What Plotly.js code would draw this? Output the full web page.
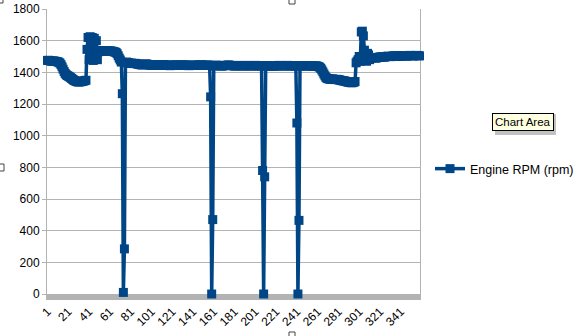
<!DOCTYPE html>
<html>
<head>
<meta charset="utf-8">
<script src="https://cdn.plot.ly/plotly-3.0.1.min.js"></script>
<style>
  html, body { margin: 0; padding: 0; background: #ffffff; }
  #chart { width: 580px; height: 336px; }
</style>
</head>
<body>
<div id="chart"></div>
<script>
// Engine RPM (rpm), one value per sample
const rpm = [
  1475,1476,1474,1472,1470,1471,1472,1470,1469,1468,
  1466,1463,1458,1448,1435,1420,1405,1393,1385,1380,
  1376,1372,1368,1362,1357,1352,1348,1345,1342,1340,
  1339,1340,1341,1342,1344,1346,1348,1350,1545,1620,
  1480,1625,1490,1620,1475,1615,1485,1600,1480,1530,
  1535,1538,1536,1535,1537,1536,1535,1534,1536,1535,
  1534,1535,1533,1532,1530,1528,1525,1518,1505,1490,
  1478,1465,1265,10,285,1460,
  1465,1462,1460,1458,
  1457,1458,1456,1455,1457,1456,1454,1452,1450,1449,
  1448,1447,1448,1450,1452,1453,1451,1449,1447,1446,
  1445,1444,1445,1446,1448,1447,1445,1444,1443,1444,
  1446,1447,1448,1447,1446,1445,1444,1443,1442,1443,
  1444,1445,1446,1447,1446,1445,1444,1443,1444,1445,
  1446,1447,1446,1445,1444,1443,1442,1443,1444,1445,
  1446,1445,1444,1443,1444,1445,1446,1447,1446,1445,
  1444,1443,1444,1445,1446,1445,1444,
  1245,0,470,1440,
  1442,1444,1445,1444,1443,1442,1441,1440,1441,
  1442,1443,1444,1445,1446,1445,1444,1443,1442,1441,
  1440,1441,1442,1443,1444,1443,1442,1441,1440,1441,
  1442,1443,1444,1443,1442,1441,1440,1441,1442,1443,
  1444,1443,1442,1441,1440,1441,1440,
  780,0,740,1438,
  1440,1441,1442,1443,1442,1441,1440,1439,1440,
  1441,1442,1443,1444,1443,1442,1441,1440,1441,1442,
  1443,1444,1443,1442,1441,1440,1441,1442,1441,1440,
  1080,0,465,1440,
  1441,1442,1443,1442,1441,1440,
  1441,1442,1443,1442,1441,1440,1439,1440,1441,1440,
  1438,1436,1432,1425,1415,1403,1390,1378,1368,1362,
  1360,1358,1357,1356,1358,1357,1355,1354,1356,1355,
  1353,1352,1350,1348,1347,1346,1345,1343,1341,1339,
  1337,1336,1335,1334,1336,1338,1342,
  1460,1470,1480,1500,1470,1655,1660,1630,1540,1500,1470,1520,1510,1480,1490,
  1492,1494,1493,1491,1490,1492,1494,1495,
  1496,1497,1498,1497,1496,1498,1500,1501,1502,1500,
  1499,1500,1502,1503,1504,1503,1502,1501,1502,1503,
  1504,1505,1506,1505,1504,1503,1504,1505,1506,1507,
  1506,1505,1504,1505,1506,1507,1506,1505,1504
];
// Category labels: sample numbers 1..N
const samples = rpm.map((_, i) => String(i + 1));
const xTickLabels = ['1','21','41','61','81','101','121','141','161','181','201','221','241','261','281','301','321','341'];
const yTickValues = [0,200,400,600,800,1000,1200,1400,1600,1800];
const seriesName = 'Engine RPM (rpm)';
const tooltipText = 'Chart Area';

const blue = '#004586';
const grid = '#b3b3b3';
const font = 'Liberation Sans, Arial, sans-serif';

const trace = {
  type: 'scatter',
  mode: 'lines+markers',
  x: samples,
  y: rpm,
  name: seriesName,
  line: { color: blue, width: 3.5 },
  marker: { color: blue, symbol: 'square', size: 9 },
  showlegend: true,
  cliponaxis: false
};

// helpers for pixel -> paper (plot area: x 47..420, y 9..294)
const L = 47, R = 420, T = 9, B = 294;
const px = v => (v - L) / (R - L);
const py = v => (B - v) / (B - T);
function handle(x0, y0, x1, y1) {
  return { type: 'rect', xref: 'paper', yref: 'paper',
    x0: px(x0), x1: px(x1), y0: py(y1), y1: py(y0),
    line: { color: '#444', width: 1 }, fillcolor: '#ffffff', layer: 'above' };
}

const layout = {
  width: 580, height: 336,
  margin: { l: L, r: 580 - R, t: T, b: 336 - B, pad: 0, autoexpand: false },
  paper_bgcolor: '#ffffff',
  plot_bgcolor: '#ffffff',
  font: { family: font, size: 12, color: '#000000' },
  showlegend: true,
  xaxis: {
    type: 'category',
    categoryorder: 'array',
    categoryarray: samples,
    range: [-0.5, samples.length - 0.5],
    tickmode: 'array',
    tickvals: xTickLabels,
    ticktext: xTickLabels,
    tickangle: -45,
    showgrid: false,
    zeroline: false,
    showline: true,
    linecolor: grid,
    linewidth: 6,
    layer: 'below traces',
    ticks: '',
    automargin: false,
    tickfont: { family: font, size: 12, color: '#000000' },
    fixedrange: true
  },
  yaxis: {
    range: [0, 1800],
    tickmode: 'array',
    tickvals: yTickValues,
    ticktext: yTickValues.map(String),
    showgrid: true,
    gridcolor: grid,
    gridwidth: 1,
    zeroline: false,
    showline: true,
    mirror: true,
    linecolor: grid,
    linewidth: 1,
    ticks: 'outside',
    ticklen: 4,
    tickcolor: grid,
    layer: 'below traces',
    automargin: false,
    tickfont: { family: font, size: 12, color: '#000000' },
    fixedrange: true
  },
  legend: {
    x: px(430), y: py(169),
    xanchor: 'left', yanchor: 'middle',
    bgcolor: 'rgba(0,0,0,0)',
    borderwidth: 0,
    font: { family: font, size: 12.5, color: '#000000' },
    itemclick: false
  },
  annotations: [{
    xref: 'paper', yref: 'paper',
    x: px(522.5), y: py(121.5),
    xanchor: 'center', yanchor: 'middle',
    text: tooltipText,
    showarrow: false,
    font: { family: font, size: 11.5, color: '#000000' },
    bgcolor: '#ffffe1',
    bordercolor: '#000000',
    borderwidth: 1,
    borderpad: 2
  }],
  shapes: [
    { type: 'rect', xref: 'paper', yref: 'paper',
      x0: px(495), x1: px(556), y0: py(135), y1: py(114),
      line: { width: 0 }, fillcolor: 'rgba(120,120,120,0.45)', layer: 'below' },
    handle(-2, -2, 3, 3),
    handle(289, -2, 295, 4),
    handle(-3, 164, 4, 171),
    handle(289, 332, 295, 339)
  ]
};

Plotly.newPlot('chart', [trace], layout, { displayModeBar: false, staticPlot: true });
</script>
</body>
</html>
